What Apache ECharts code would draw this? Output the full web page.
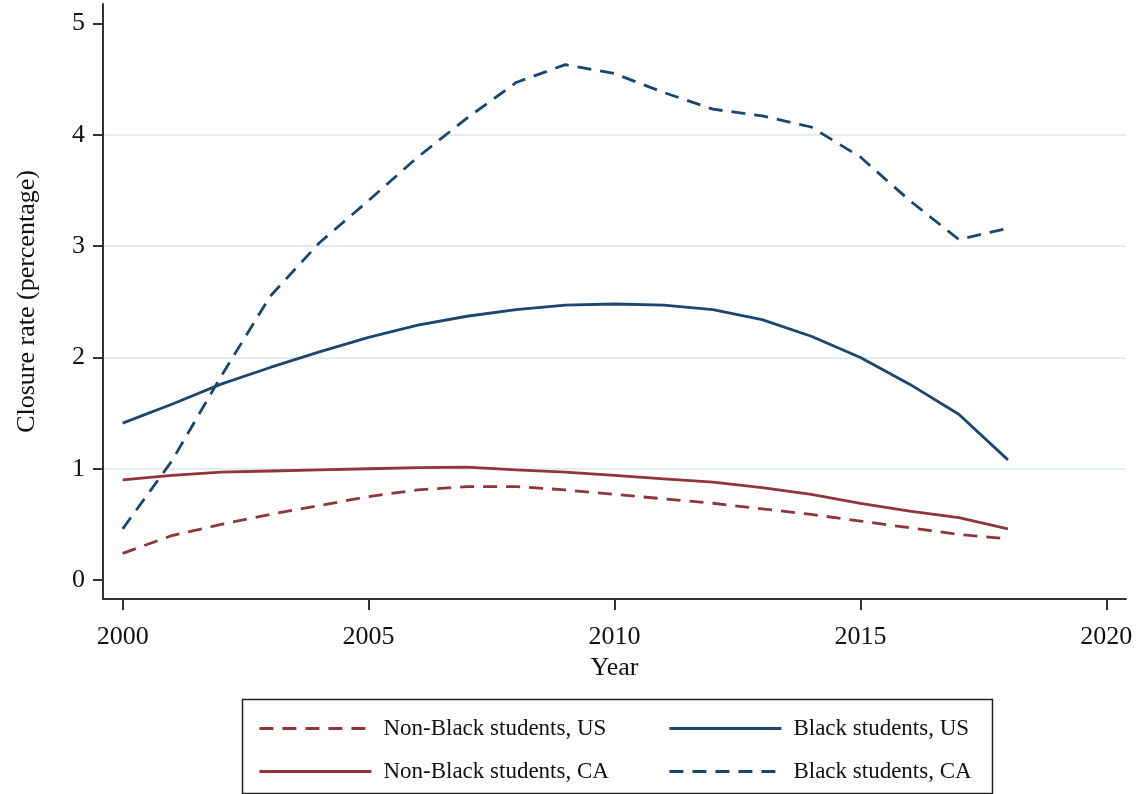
<!DOCTYPE html>
<html>
<head>
<meta charset="utf-8">
<script src="https://cdn.jsdelivr.net/npm/echarts@6/dist/echarts.min.js"></script>
<style>
  html, body { margin: 0; padding: 0; background: #fff; }
  #chart { width: 1141px; height: 794px; }
</style>
</head>
<body>
<div id="chart"></div>
<script>
// years on the x axis
const years = [2000, 2001, 2002, 2003, 2004, 2005, 2006, 2007, 2008, 2009,
               2010, 2011, 2012, 2013, 2014, 2015, 2016, 2017, 2018];

// closure rates (percentage)
const nonBlackUS = [0.24, 0.40, 0.50, 0.59, 0.67, 0.75, 0.81, 0.84, 0.84, 0.81,
                    0.77, 0.73, 0.69, 0.64, 0.59, 0.53, 0.47, 0.41, 0.37];
const nonBlackCA = [0.90, 0.94, 0.97, 0.98, 0.99, 1.00, 1.01, 1.015, 0.99, 0.97,
                    0.94, 0.91, 0.88, 0.83, 0.77, 0.69, 0.62, 0.56, 0.46];
const blackUS = [1.41, 1.58, 1.76, 1.91, 2.05, 2.18, 2.29, 2.37, 2.43, 2.47,
                 2.48, 2.47, 2.43, 2.34, 2.19, 2.00, 1.76, 1.49, 1.08];
const blackCA = [0.46, 1.07, 1.83, 2.55, 3.03, 3.41, 3.80, 4.15, 4.47, 4.63,
                 4.55, 4.38, 4.23, 4.17, 4.07, 3.80, 3.41, 3.06, 3.16];

const xTicks = [2000, 2005, 2010, 2015, 2020];
const yTicks = [0, 1, 2, 3, 4, 5];

const BLUE = '#1a476f';
const RED = '#90353b';
const FONT = 'Liberation Serif';

const pairs = arr => years.map((y, i) => [y, arr[i]]);

const mk = (name, data, color, dashed) => ({
  name: name,
  type: 'line',
  data: pairs(data),
  symbol: 'none',
  smooth: false,
  lineStyle: { color: color, width: 2.8, type: dashed ? [14, 9] : 'solid' },
  itemStyle: { color: color }
});

const legendBase = {
  orient: 'vertical',
  top: 712,
  itemWidth: 112,
  itemHeight: 14,
  itemGap: 20,
  itemStyle: { opacity: 0 },
  lineStyle: { width: 2.8 },
  textStyle: { fontFamily: FONT, fontSize: 23, color: '#111', padding: [0, 0, 0, 7] }
};

const chart = echarts.init(document.getElementById('chart'));
chart.setOption({
  backgroundColor: '#fff',
  animation: false,
  textStyle: { fontFamily: FONT },
  grid: { left: 103, right: 15, top: 4, bottom: 195 },
  xAxis: {
    type: 'value',
    min: 1999.6,
    max: 2020.4,
    name: 'Year',
    nameLocation: 'middle',
    nameGap: 48,
    nameTextStyle: { fontFamily: FONT, fontSize: 26, color: '#111' },
    axisLine: { show: true, onZero: false, lineStyle: { color: '#333', width: 2 } },
    axisTick: { show: true, length: 11, customValues: xTicks, lineStyle: { color: '#333', width: 2 } },
    axisLabel: {
      customValues: xTicks, margin: 25, fontFamily: FONT, fontSize: 26, color: '#111',
      formatter: v => String(v)
    },
    splitLine: { show: false }
  },
  yAxis: {
    type: 'value',
    min: -0.17,
    max: 5.175,
    name: 'Closure rate (percentage)',
    nameLocation: 'middle',
    nameGap: 63,
    nameTextStyle: { fontFamily: FONT, fontSize: 26, color: '#111' },
    axisLine: { show: true, onZero: false, lineStyle: { color: '#333', width: 2 } },
    axisTick: { show: true, length: 10, customValues: yTicks, lineStyle: { color: '#333', width: 2 } },
    axisLabel: { customValues: yTicks, margin: 18, fontFamily: FONT, fontSize: 26, color: '#111' },
    splitLine: {
      show: true, showMinLine: false, showMaxLine: false,
      lineStyle: { color: '#e4edf1', width: 2 }
    }
  },
  legend: [
    Object.assign({}, legendBase, {
      left: 253,
      data: ['Non-Black students, US', 'Non-Black students, CA']
    }),
    Object.assign({}, legendBase, {
      left: 663,
      data: ['Black students, US', 'Black students, CA']
    })
  ],
  graphic: [
    {
      type: 'rect',
      left: 240,
      top: 697,
      shape: { width: 750, height: 94 },
      style: { fill: 'none', stroke: '#222', lineWidth: 1.5 }
    }
  ],
  series: [
    mk('Non-Black students, US', nonBlackUS, RED, true),
    mk('Non-Black students, CA', nonBlackCA, RED, false),
    mk('Black students, US', blackUS, BLUE, false),
    mk('Black students, CA', blackCA, BLUE, true)
  ]
});
</script>
</body>
</html>
